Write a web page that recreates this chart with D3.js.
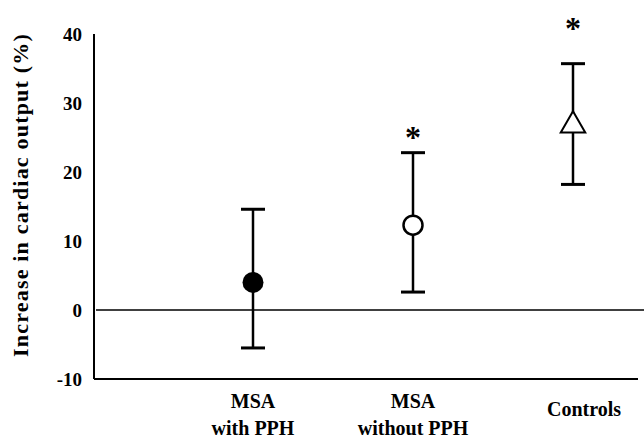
<!DOCTYPE html>
<html>
<head>
<meta charset="utf-8">
<script src="https://cdn.jsdelivr.net/npm/d3@7"></script>
<style>
  body { margin: 0; background: #fff; }
  text { font-family: "Liberation Serif", "Times New Roman", serif; font-weight: bold; fill: #000; }
</style>
</head>
<body>
<div id="chart"></div>
<script>
// groups and their values (% increase, mean with upper / lower bar ends)
var groups = ["MSA with PPH", "MSA without PPH", "Controls"];
var groupLines = [["MSA", "with PPH"], ["MSA", "without PPH"], ["Controls"]];
var means = [4.0, 12.3, 26.9];
var upper = [14.6, 22.8, 35.7];
var lower = [-5.5, 2.6, 18.2];
var markers = ["filled", "open", "triangle"];
// level (in %) where a significance asterisk is placed, null = none
var starLevel = [null, 26.3, 42.0];
var yTicks = [-10, 0, 10, 20, 30, 40];

var width = 644, height = 440;
var svg = d3.select("#chart").append("svg")
  .attr("width", width)
  .attr("height", height);

// scales
var y = d3.scaleLinear().domain([-10, 40]).range([379, 34]);
var x = d3.scalePoint().domain(groups).range([253, 573]);
var xLeft = 94, xRight = 638;

// y axis line and bottom line
svg.append("line")
  .attr("x1", xLeft).attr("x2", xLeft)
  .attr("y1", y(40)).attr("y2", y(-10))
  .attr("stroke", "#000").attr("stroke-width", 2);
svg.append("line")
  .attr("x1", xLeft).attr("x2", xRight)
  .attr("y1", y(-10)).attr("y2", y(-10))
  .attr("stroke", "#000").attr("stroke-width", 2);

// zero line runs to the right edge
svg.append("line")
  .attr("x1", xLeft + 2).attr("x2", width)
  .attr("y1", y(0)).attr("y2", y(0))
  .attr("stroke", "#000").attr("stroke-width", 1.5);

// tick labels
svg.selectAll(".ytick")
  .data(yTicks)
  .enter().append("text")
  .attr("class", "ytick")
  .attr("x", 82)
  .attr("y", d => y(d))
  .attr("dy", "0.35em")
  .attr("text-anchor", "end")
  .style("font-size", "19px")
  .text(d => d);

// y axis title
svg.append("text")
  .attr("transform", "translate(28," + 195 + ") rotate(-90)")
  .attr("text-anchor", "middle")
  .style("font-size", "22px")
  .style("letter-spacing", "1.2px")
  .text("Increase in cardiac output (%)");

// category labels
var labels = svg.selectAll(".xlab")
  .data(groups)
  .enter().append("text")
  .attr("class", "xlab")
  .attr("text-anchor", "middle")
  .style("font-size", "20px")
  .attr("y", (d, i) => groupLines[i].length == 1 ? 416 : 408);
labels.selectAll("tspan")
  .data((d, i) => groupLines[i].map(t => ({ t: t, x: x(d) + (groupLines[i].length == 1 ? 11 : 0) })))
  .enter().append("tspan")
  .attr("x", d => d.x)
  .attr("dy", (d, j) => j == 0 ? 0 : 27)
  .text(d => d.t);

// error bars
var capW = 12;
var bars = svg.selectAll(".bar")
  .data(groups)
  .enter().append("g")
  .attr("class", "bar");
bars.append("line")
  .attr("x1", d => x(d)).attr("x2", d => x(d))
  .attr("y1", (d, i) => y(upper[i])).attr("y2", (d, i) => y(lower[i]))
  .attr("stroke", "#000").attr("stroke-width", 2.5);
bars.append("line")
  .attr("x1", d => x(d) - capW).attr("x2", d => x(d) + capW)
  .attr("y1", (d, i) => y(upper[i])).attr("y2", (d, i) => y(upper[i]))
  .attr("stroke", "#000").attr("stroke-width", 3);
bars.append("line")
  .attr("x1", d => x(d) - capW).attr("x2", d => x(d) + capW)
  .attr("y1", (d, i) => y(lower[i])).attr("y2", (d, i) => y(lower[i]))
  .attr("stroke", "#000").attr("stroke-width", 3);

// markers
bars.each(function (d, i) {
  var g = d3.select(this);
  var cx = x(d), cy = y(means[i]);
  if (markers[i] == "filled") {
    g.append("circle").attr("cx", cx).attr("cy", cy).attr("r", 10.5)
      .attr("fill", "#000");
  } else if (markers[i] == "open") {
    g.append("circle").attr("cx", cx).attr("cy", cy).attr("r", 9.5)
      .attr("fill", "#fff").attr("stroke", "#000").attr("stroke-width", 2.5);
  } else {
    var s = d3.symbol().type(d3.symbolTriangle).size(260);
    g.append("path").attr("d", s())
      .attr("transform", "translate(" + cx + "," + (cy + 1) + ")")
      .attr("fill", "#fff").attr("stroke", "#000").attr("stroke-width", 2);
  }
});

// significance asterisks
svg.selectAll(".star")
  .data(groups.filter((d, i) => starLevel[i] != null))
  .enter().append("text")
  .attr("class", "star")
  .attr("text-anchor", "middle")
  .style("font-size", "32px")
  .attr("x", d => x(d))
  .attr("y", d => y(starLevel[groups.indexOf(d)]))
  .attr("dy", "0.6em")
  .text("*");
</script>
</body>
</html>
